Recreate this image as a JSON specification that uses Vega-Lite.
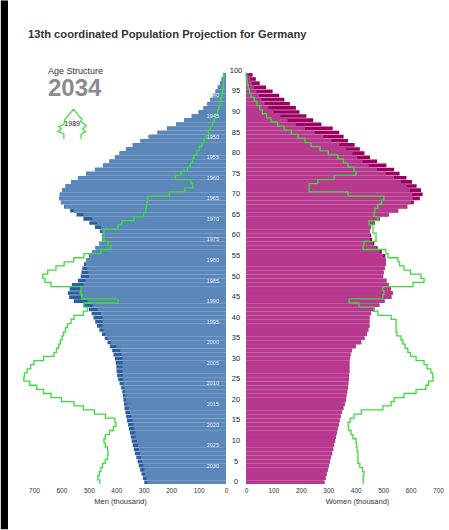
{
  "$schema": "https://vega.github.io/schema/vega-lite/v6.json",
  "background": "white",
  "padding": 0,
  "config": {"view": {"stroke": null}, "font": "Liberation Sans",
    "axisX": {"labelOverlap": false, "labelFlush": false, "grid": true, "gridColor": "#ffffff", "gridOpacity": 0.45, "gridWidth": 0.8, "zindex": 1, "domain": false, "ticks": false, "labelFontSize": 6.5, "labelColor": "#333333", "labelPadding": 3, "titleFontSize": 7.5, "titleFontWeight": "normal", "titleColor": "#333333", "titlePadding": 4}},
  "datasets": {
    "pop": [
      {"age":0,"m":298,"f":286,"m89":460,"f89":427},
      {"age":1,"m":303,"f":290,"m89":467,"f89":427},
      {"age":2,"m":308,"f":294,"m89":462,"f89":430},
      {"age":3,"m":313,"f":298,"m89":456,"f89":425},
      {"age":4,"m":318,"f":302,"m89":450,"f89":415},
      {"age":5,"m":322,"f":306,"m89":440,"f89":408},
      {"age":6,"m":327,"f":310,"m89":432,"f89":408},
      {"age":7,"m":332,"f":314,"m89":430,"f89":408},
      {"age":8,"m":336,"f":318,"m89":432,"f89":405},
      {"age":9,"m":340,"f":321,"m89":440,"f89":403},
      {"age":10,"m":344,"f":325,"m89":445,"f89":401},
      {"age":11,"m":347,"f":328,"m89":440,"f89":390},
      {"age":12,"m":350,"f":331,"m89":425,"f89":383},
      {"age":13,"m":354,"f":334,"m89":410,"f89":375},
      {"age":14,"m":357,"f":338,"m89":401,"f89":372},
      {"age":15,"m":361,"f":341,"m89":405,"f89":380},
      {"age":16,"m":364,"f":345,"m89":440,"f89":394},
      {"age":17,"m":367,"f":350,"m89":480,"f89":420},
      {"age":18,"m":370,"f":355,"m89":520,"f89":499},
      {"age":19,"m":372,"f":360,"m89":554,"f89":529},
      {"age":20,"m":374,"f":364,"m89":600,"f89":540},
      {"age":21,"m":376,"f":366,"m89":638,"f89":576},
      {"age":22,"m":378,"f":369,"m89":665,"f89":620},
      {"age":23,"m":382,"f":371,"m89":690,"f89":656},
      {"age":24,"m":388,"f":373,"m89":715,"f89":665},
      {"age":25,"m":393,"f":375,"m89":737,"f89":682},
      {"age":26,"m":397,"f":376,"m89":735,"f89":680},
      {"age":27,"m":399,"f":377,"m89":725,"f89":674},
      {"age":28,"m":400,"f":377,"m89":712,"f89":660},
      {"age":29,"m":402,"f":377,"m89":700,"f89":649},
      {"age":30,"m":405,"f":378,"m89":665,"f89":620},
      {"age":31,"m":410,"f":381,"m89":627,"f89":600},
      {"age":32,"m":415,"f":386,"m89":618,"f89":590},
      {"age":33,"m":423,"f":400,"m89":610,"f89":580},
      {"age":34,"m":432,"f":420,"m89":604,"f89":572},
      {"age":35,"m":442,"f":432,"m89":598,"f89":565},
      {"age":36,"m":452,"f":440,"m89":592,"f89":550},
      {"age":37,"m":462,"f":446,"m89":585,"f89":547},
      {"age":38,"m":470,"f":450,"m89":578,"f89":547},
      {"age":39,"m":477,"f":450,"m89":565,"f89":547},
      {"age":40,"m":483,"f":450,"m89":554,"f89":529},
      {"age":41,"m":490,"f":456,"m89":520,"f89":481},
      {"age":42,"m":500,"f":468,"m89":505,"f89":467},
      {"age":43,"m":520,"f":486,"m89":518,"f89":412},
      {"age":44,"m":555,"f":505,"m89":394,"f89":376},
      {"age":45,"m":572,"f":530,"m89":525,"f89":499},
      {"age":46,"m":576,"f":535,"m89":529,"f89":503},
      {"age":47,"m":570,"f":528,"m89":529,"f89":499},
      {"age":48,"m":562,"f":520,"m89":638,"f89":609},
      {"age":49,"m":540,"f":512,"m89":660,"f89":649},
      {"age":50,"m":530,"f":500,"m89":668,"f89":638},
      {"age":51,"m":527,"f":502,"m89":650,"f89":600},
      {"age":52,"m":524,"f":506,"m89":620,"f89":576},
      {"age":53,"m":518,"f":510,"m89":590,"f89":560},
      {"age":54,"m":510,"f":510,"m89":555,"f89":554},
      {"age":55,"m":500,"f":508,"m89":518,"f89":518},
      {"age":56,"m":488,"f":495,"m89":456,"f89":510},
      {"age":57,"m":476,"f":480,"m89":420,"f89":427},
      {"age":58,"m":462,"f":468,"m89":430,"f89":430},
      {"age":59,"m":452,"f":460,"m89":445,"f89":474},
      {"age":60,"m":452,"f":456,"m89":445,"f89":474},
      {"age":61,"m":460,"f":452,"m89":445,"f89":463},
      {"age":62,"m":478,"f":456,"m89":394,"f89":463},
      {"age":63,"m":498,"f":470,"m89":380,"f89":448},
      {"age":64,"m":520,"f":488,"m89":335,"f89":481},
      {"age":65,"m":545,"f":520,"m89":300,"f89":467},
      {"age":66,"m":568,"f":555,"m89":292,"f89":470},
      {"age":67,"m":590,"f":588,"m89":290,"f89":481},
      {"age":68,"m":602,"f":612,"m89":288,"f89":495},
      {"age":69,"m":608,"f":634,"m89":285,"f89":503},
      {"age":70,"m":606,"f":644,"m89":207,"f89":372},
      {"age":71,"m":598,"f":638,"m89":150,"f89":230},
      {"age":72,"m":585,"f":622,"m89":121,"f89":230},
      {"age":73,"m":565,"f":605,"m89":128,"f89":262},
      {"age":74,"m":540,"f":585,"m89":185,"f89":321},
      {"age":75,"m":510,"f":560,"m89":164,"f89":401},
      {"age":76,"m":478,"f":540,"m89":140,"f89":394},
      {"age":77,"m":448,"f":512,"m89":130,"f89":372},
      {"age":78,"m":425,"f":478,"m89":122,"f89":355},
      {"age":79,"m":405,"f":452,"m89":117,"f89":335},
      {"age":80,"m":388,"f":432,"m89":107,"f89":300},
      {"age":81,"m":365,"f":415,"m89":98,"f89":270},
      {"age":82,"m":340,"f":396,"m89":88,"f89":237},
      {"age":83,"m":312,"f":372,"m89":80,"f89":215},
      {"age":84,"m":282,"f":356,"m89":72,"f89":190},
      {"age":85,"m":250,"f":340,"m89":64,"f89":165},
      {"age":86,"m":215,"f":316,"m89":57,"f89":139},
      {"age":87,"m":182,"f":275,"m89":50,"f89":115},
      {"age":88,"m":152,"f":245,"m89":43,"f89":91},
      {"age":89,"m":125,"f":220,"m89":37,"f89":75},
      {"age":90,"m":100,"f":195,"m89":30,"f89":60},
      {"age":91,"m":82,"f":182,"m89":26,"f89":50},
      {"age":92,"m":68,"f":160,"m89":22,"f89":40},
      {"age":93,"m":57,"f":140,"m89":18,"f89":30},
      {"age":94,"m":47,"f":121,"m89":15,"f89":18},
      {"age":95,"m":38,"f":97,"m89":12,"f89":12},
      {"age":96,"m":30,"f":73,"m89":10,"f89":8},
      {"age":97,"m":22,"f":50,"m89":9,"f89":5},
      {"age":98,"m":16,"f":36,"m89":8,"f89":3},
      {"age":99,"m":9,"f":24,"m89":7,"f89":0},
      {"age":100,"m":0,"f":0,"m89":7,"f89":0}
    ],
    "years": [
      {"year":"1940","age":94},{"year":"1945","age":89},{"year":"1950","age":84},{"year":"1955","age":79},
      {"year":"1960","age":74},{"year":"1965","age":69},{"year":"1970","age":64},{"year":"1975","age":59},
      {"year":"1980","age":54},{"year":"1985","age":49},{"year":"1990","age":44},{"year":"1995","age":39},
      {"year":"2000","age":34},{"year":"2005","age":29},{"year":"2010","age":24},{"year":"2015","age":19},
      {"year":"2020","age":14},{"year":"2025","age":9},{"year":"2030","age":4}
    ],
    "agelabels": [
      {"age":0},{"age":5},{"age":10},{"age":15},{"age":20},{"age":25},{"age":30},{"age":35},{"age":40},{"age":45},
      {"age":50},{"age":55},{"age":60},{"age":65},{"age":70},{"age":75},{"age":80},{"age":85},{"age":90},{"age":95},{"age":100}
    ]
  },
  "spacing": 20,
  "bounds": "flush",
  "hconcat": [
    {
      "width": 192,
      "height": 415,
      "resolve": {"scale": {"y": "independent"}},
      "layer": [
        {
          "data": {"name": "pop"},
          "layer": [
            {
              "mark": {"type": "bar", "color": "#2d5e9e"},
              "encoding": {
                "y": {"field": "age", "type": "ordinal", "scale": {"domain": [100,99,98,97,96,95,94,93,92,91,90,89,88,87,86,85,84,83,82,81,80,79,78,77,76,75,74,73,72,71,70,69,68,67,66,65,64,63,62,61,60,59,58,57,56,55,54,53,52,51,50,49,48,47,46,45,44,43,42,41,40,39,38,37,36,35,34,33,32,31,30,29,28,27,26,25,24,23,22,21,20,19,18,17,16,15,14,13,12,11,10,9,8,7,6,5,4,3,2,1,0], "paddingInner": 0.12, "paddingOuter": 0}, "axis": null},
                "x": {"field": "m", "type": "quantitative", "title": "Men (thousand)", "scale": {"domain": [0, 700], "reverse": true},
                  "axis": {"values": [0,100,200,300,400,500,600,700], "titleX": 86}}
              }
            },
            {
              "transform": [{"fold": ["m", "f"]}],
              "mark": {"type": "bar", "color": "#5a86b9"},
              "encoding": {
                "y": {"field": "age", "type": "ordinal"},
                "x": {"aggregate": "min", "field": "value", "type": "quantitative", "title": "Men (thousand)",
                  "axis": {"values": [0,100,200,300,400,500,600,700], "titleX": 86}}
              }
            },
            {
              "mark": {"type": "line", "color": "#3ddc3d", "strokeWidth": 1.3, "interpolate": "step-before"},
              "encoding": {
                "y": {"field": "age", "type": "ordinal", "bandPosition": 1},
                "x": {"field": "m89", "type": "quantitative", "title": "Men (thousand)",
                  "axis": {"values": [0,100,200,300,400,500,600,700], "titleX": 86}},
                "order": {"field": "age", "type": "quantitative"}
              }
            },
            {
              "data": {"name": "years"},
              "mark": {"type": "text", "color": "#e4ebf5", "fontSize": 5.5, "align": "center", "baseline": "middle"},
              "encoding": {
                "y": {"field": "age", "type": "ordinal"},
                "x": {"datum": 48, "type": "quantitative", "title": "Men (thousand)", "axis": {"values": [0,100,200,300,400,500,600,700], "titleX": 86}},
                "text": {"field": "year"}
              }
            },
            {
              "data": {"values": [{}]},
              "mark": {"type": "text", "align": "left", "baseline": "middle", "fontSize": 9, "color": "#333333"},
              "encoding": {"x": {"datum": 649, "type": "quantitative", "title": "Men (thousand)", "axis": {"values": [0,100,200,300,400,500,600,700], "titleX": 86}}, "y": {"datum": 100, "type": "ordinal"}, "text": {"value": "Age Structure"}}
            },
            {
              "data": {"values": [{}]},
              "mark": {"type": "text", "align": "left", "baseline": "middle", "fontSize": 24, "fontWeight": "bold", "color": "#8c8c8c", "dy": 2},
              "encoding": {"x": {"datum": 649, "type": "quantitative", "title": "Men (thousand)", "axis": {"values": [0,100,200,300,400,500,600,700], "titleX": 86}}, "y": {"datum": 96, "type": "ordinal"}, "text": {"value": "2034"}}
            },
            {
              "data": {"values": [{}]},
              "mark": {"type": "point", "filled": false, "stroke": "#3ddc3d", "strokeWidth": 1.2, "size": 900, "opacity": 1,
                "shape": "M -0.55 1 L -0.55 0.62 L -0.95 0.48 L -0.72 0.3 L -0.9 0.15 L -0.55 0.02 L -0.5 -0.3 L -0.3 -0.55 L 0.1 -1 L 0.35 -0.68 L 0.5 -0.5 L 0.68 -0.35 L 0.55 -0.2 L 0.95 0.08 L 0.7 0.32 L 0.9 0.5 L 0.6 0.65 L 0.6 1"},
              "encoding": {"x": {"datum": 561, "type": "quantitative", "title": "Men (thousand)", "axis": {"values": [0,100,200,300,400,500,600,700], "titleX": 86}}, "y": {"datum": 87, "type": "ordinal"}}
            },
            {
              "data": {"values": [{}]},
              "mark": {"type": "text", "align": "center", "baseline": "middle", "fontSize": 7, "color": "#222222"},
              "encoding": {"x": {"datum": 561, "type": "quantitative", "title": "Men (thousand)", "axis": {"values": [0,100,200,300,400,500,600,700], "titleX": 86}}, "y": {"datum": 87, "type": "ordinal"}, "text": {"value": "1989"}}
            }
          ]
        },
        {
          "data": {"values": [{}]},
          "layer": [
            {
              "mark": {"type": "rect", "color": "#000000"},
              "encoding": {
                "x": {"datum": 821, "type": "quantitative", "title": "Men (thousand)", "axis": {"values": [0,100,200,300,400,500,600,700], "titleX": 86}},
                "x2": {"datum": 794.8},
                "y": {"datum": 1.1653, "type": "quantitative", "scale": {"domain": [0, 1]}, "axis": null},
                "y2": {"datum": -0.109}
              }
            },
            {
              "mark": {"type": "text", "align": "left", "baseline": "middle", "fontSize": 11.2, "fontWeight": "bold", "color": "#333333"},
              "encoding": {
                "x": {"datum": 721.9, "type": "quantitative", "title": "Men (thousand)", "axis": {"values": [0,100,200,300,400,500,600,700], "titleX": 86}},
                "y": {"datum": 1.081, "type": "quantitative", "axis": null},
                "text": {"value": "13th coordinated Population Projection for Germany"}
              }
            }
          ]
        }
      ]
    },
    {
      "width": 192,
      "height": 415,
      "data": {"name": "pop"},
      "layer": [
        {
          "mark": {"type": "bar", "color": "#99005f"},
          "encoding": {
            "y": {"field": "age", "type": "ordinal", "scale": {"domain": [100,99,98,97,96,95,94,93,92,91,90,89,88,87,86,85,84,83,82,81,80,79,78,77,76,75,74,73,72,71,70,69,68,67,66,65,64,63,62,61,60,59,58,57,56,55,54,53,52,51,50,49,48,47,46,45,44,43,42,41,40,39,38,37,36,35,34,33,32,31,30,29,28,27,26,25,24,23,22,21,20,19,18,17,16,15,14,13,12,11,10,9,8,7,6,5,4,3,2,1,0], "paddingInner": 0.12, "paddingOuter": 0}, "axis": null},
            "x": {"field": "f", "type": "quantitative", "title": "Women (thousand)", "scale": {"domain": [0, 700]},
              "axis": {"values": [0,100,200,300,400,500,600,700], "titleX": 111}}
          }
        },
        {
          "transform": [{"fold": ["m", "f"]}],
          "mark": {"type": "bar", "color": "#b8388f"},
          "encoding": {
            "y": {"field": "age", "type": "ordinal"},
            "x": {"aggregate": "min", "field": "value", "type": "quantitative", "title": "Women (thousand)",
              "axis": {"values": [0,100,200,300,400,500,600,700], "titleX": 111}}
          }
        },
        {
          "mark": {"type": "line", "color": "#3ddc3d", "strokeWidth": 1.3, "interpolate": "step-before"},
          "encoding": {
            "y": {"field": "age", "type": "ordinal", "bandPosition": 1},
            "x": {"field": "f89", "type": "quantitative", "title": "Women (thousand)",
              "axis": {"values": [0,100,200,300,400,500,600,700], "titleX": 111}},
            "order": {"field": "age", "type": "quantitative"}
          }
        },
        {
          "data": {"name": "agelabels"},
          "mark": {"type": "text", "align": "center", "baseline": "middle", "fontSize": 7.5, "color": "#222222"},
          "encoding": {
            "y": {"field": "age", "type": "ordinal"},
            "x": {"datum": -36.5, "type": "quantitative", "title": "Women (thousand)", "axis": {"values": [0,100,200,300,400,500,600,700], "titleX": 111}},
            "text": {"field": "age", "type": "quantitative"}
          }
        }
      ]
    }
  ]
}
